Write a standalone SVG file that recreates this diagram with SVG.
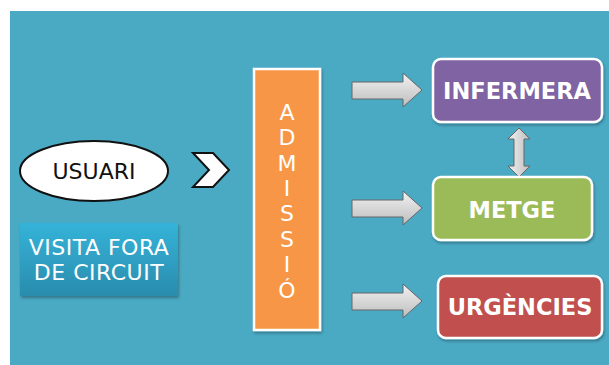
<svg xmlns="http://www.w3.org/2000/svg" width="609" height="365" viewBox="0 0 609 365">
<defs>
<linearGradient id="gArrow" x1="0" y1="0" x2="0" y2="1">
<stop offset="0" stop-color="#f2f2f2"/><stop offset="1" stop-color="#bdbdbd"/>
</linearGradient>
<linearGradient id="gArrowV" x1="0" y1="0" x2="1" y2="0">
<stop offset="0" stop-color="#f2f2f2"/><stop offset="1" stop-color="#bdbdbd"/>
</linearGradient>
<linearGradient id="gVisita" x1="0" y1="0" x2="0" y2="1">
<stop offset="0" stop-color="#35b3d9"/><stop offset="1" stop-color="#2a8cad"/>
</linearGradient>
<filter id="sh" x="-10%" y="-10%" width="130%" height="130%">
<feDropShadow dx="1" dy="2" stdDeviation="1.5" flood-color="#000" flood-opacity="0.3"/>
</filter>
</defs>
<style>
.box{stroke:#fff;stroke-width:2.5;filter:url(#sh)}
.lbl{font-family:"DejaVu Sans",Verdana,sans-serif;font-weight:bold;font-size:22.5px;fill:#fff;text-anchor:middle}
.arr{fill:url(#gArrow);stroke:#666;stroke-width:1}
.adm{font-family:"DejaVu Sans",Verdana,sans-serif;font-size:22px;fill:#fff;text-anchor:middle}
</style>
<rect x="0" y="0" width="609" height="365" fill="#ffffff"/>
<rect x="10" y="11" width="599" height="354" fill="#4aaac4"/>

<g id="usuari">
<ellipse cx="94" cy="171" rx="74" ry="30" fill="#fff" stroke="#111" stroke-width="2"/>
<text x="94" y="179" font-family="'DejaVu Sans',Verdana,sans-serif" font-size="22" fill="#111" text-anchor="middle">USUARI</text>
</g>

<g id="chevron">
<polygon points="193,153 213,153 229,170 213,187 193,187 209,170" fill="#fff" stroke="#111" stroke-width="2" stroke-linejoin="miter"/>
</g>

<g id="visita">
<rect x="20" y="223" width="158" height="73" fill="url(#gVisita)" filter="url(#sh)"/>
<text font-family="'DejaVu Sans',Verdana,sans-serif" font-size="22" letter-spacing="0.5" fill="#fff" text-anchor="middle"><tspan x="99" y="255">VISITA FORA</tspan><tspan x="99" y="280">DE CIRCUIT</tspan></text>
</g>

<g id="admissio">
<rect class="box" x="254" y="69" width="66" height="261" fill="#f79646"/>
<text class="adm"><tspan x="287" y="120">A</tspan><tspan x="287" y="145">D</tspan><tspan x="287" y="171">M</tspan><tspan x="287" y="196">I</tspan><tspan x="287" y="221">S</tspan><tspan x="287" y="247">S</tspan><tspan x="287" y="272">I</tspan><tspan x="287" y="298">Ó</tspan></text>
</g>

<g id="connectors">
<polygon class="arr" points="352,82 403,82 403,73 422,90 403,107 403,99 352,99"/>
<polygon class="arr" points="352,200 403,200 403,191 422,208 403,225 403,217 352,217"/>
<polygon class="arr" points="352,293 403,293 403,284 422,301 403,318 403,310 352,310"/>
<polygon points="519,128 530,139 524,139 524,166 530,166 519,177 508,166 514,166 514,139 508,139" fill="url(#gArrowV)" stroke="#666" stroke-width="1"/>
</g>

<g id="infermera">
<rect class="box" x="433" y="59" width="169" height="63" rx="8" fill="#8064a2"/>
<text class="lbl" x="517" y="99">INFERMERA</text>
</g>

<g id="metge">
<rect class="box" x="433" y="177" width="159" height="63" rx="8" fill="#9bbb59"/>
<text class="lbl" x="512" y="218">METGE</text>
</g>

<g id="urgencies">
<rect class="box" x="438" y="276" width="164" height="62" rx="8" fill="#c0504d"/>
<text class="lbl" x="520" y="315">URGÈNCIES</text>
</g>
</svg>
